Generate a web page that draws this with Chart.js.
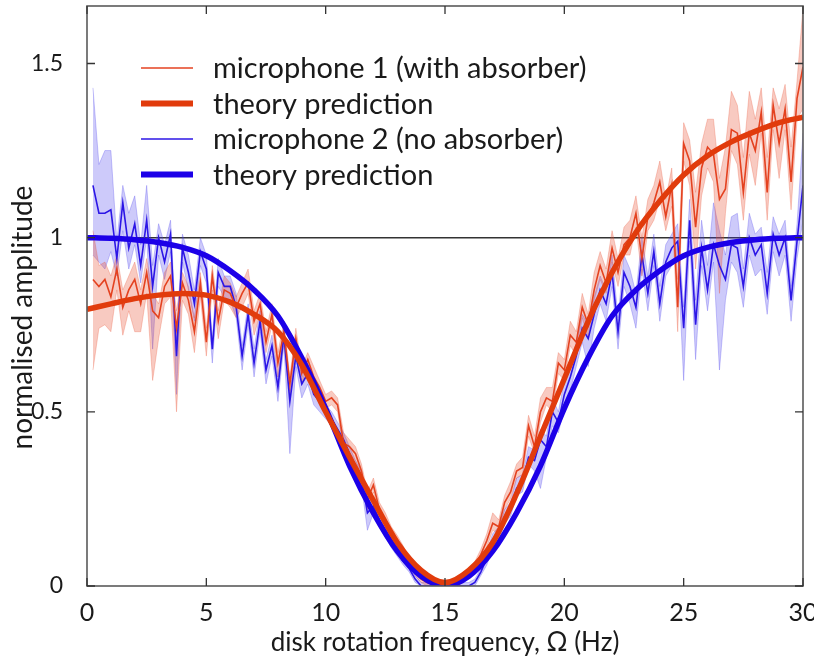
<!DOCTYPE html>
<html lang="en">
<head>
<meta charset="UTF-8">
<title>Normalised amplitude vs disk rotation frequency</title>
<script src="https://cdn.jsdelivr.net/npm/chart.js"></script>
<style>
  body { margin: 0; background: #fff; }
  #wrap { width: 814px; height: 668px; }
</style>
</head>
<body>
<div id="wrap"><canvas id="ampChart" width="814" height="668"></canvas></div>
<script>
// measured points, 0.25 Hz apart starting at 0.25 Hz
const mic1 = [
  0.88, 0.86, 0.88, 0.83, 0.91, 0.80, 0.85, 0.88, 0.81, 0.90, 0.79, 0.77, 0.86, 0.89, 0.74, 0.87, 0.82, 0.73, 0.87, 0.70,
  0.89, 0.76, 0.85, 0.84, 0.80, 0.84, 0.87, 0.76, 0.81, 0.70, 0.78, 0.64, 0.73, 0.58, 0.71, 0.61, 0.65, 0.60, 0.57, 0.53,
  0.54, 0.52, 0.41, 0.40, 0.38, 0.33, 0.25, 0.29, 0.22, 0.19, 0.15, 0.13, 0.10, 0.07, 0.04, 0.02, 0.01, 0.005, 0.0, 0.0,
  0.0, 0.01, 0.02, 0.04, 0.06, 0.09, 0.13, 0.18, 0.17, 0.24, 0.27, 0.33, 0.34, 0.46, 0.40, 0.50, 0.54, 0.53, 0.64, 0.62,
  0.72, 0.70, 0.80, 0.75, 0.85, 0.92, 0.87, 0.97, 0.90, 0.98, 1.00, 1.07, 0.94, 1.06, 1.10, 1.16, 1.06, 1.15, 0.80, 1.27,
  1.22, 1.03, 1.20, 1.26, 1.24, 1.11, 1.14, 1.31, 1.30, 1.13, 1.30, 1.25, 1.36, 1.13, 1.38, 1.27, 1.37, 1.16, 1.40, 1.49
];
const mic1Dn = [
  0.26, 0.12, 0.13, 0.10, 0.06, 0.08, 0.06, 0.15, 0.08, 0.06, 0.20, 0.06, 0.05, 0.06, 0.24, 0.05, 0.04, 0.06, 0.04, 0.04,
  0.04, 0.05, 0.03, 0.04, 0.03, 0.04, 0.03, 0.04, 0.03, 0.03, 0.03, 0.04, 0.03, 0.04, 0.03, 0.03, 0.02, 0.03, 0.02, 0.02,
  0.02, 0.02, 0.02, 0.02, 0.02, 0.02, 0.03, 0.02, 0.02, 0.02, 0.015, 0.015, 0.01, 0.01, 0.01, 0.01, 0.01, 0.005, 0.0, 0.0,
  0.0, 0.01, 0.01, 0.01, 0.01, 0.015, 0.02, 0.02, 0.02, 0.02, 0.02, 0.02, 0.02, 0.03, 0.02, 0.03, 0.02, 0.03, 0.03, 0.03,
  0.03, 0.04, 0.03, 0.04, 0.03, 0.04, 0.03, 0.04, 0.04, 0.03, 0.05, 0.04, 0.05, 0.04, 0.05, 0.05, 0.04, 0.06, 0.07, 0.05,
  0.07, 0.12, 0.08, 0.06, 0.08, 0.27, 0.07, 0.06, 0.09, 0.08, 0.06, 0.10, 0.06, 0.08, 0.07, 0.10, 0.06, 0.08, 0.06, 0.12
];
const mic1Up = [
  0.14, 0.06, 0.05, 0.06, 0.04, 0.05, 0.04, 0.05, 0.04, 0.04, 0.05, 0.04, 0.04, 0.04, 0.05, 0.03, 0.04, 0.04, 0.03, 0.04,
  0.03, 0.03, 0.04, 0.03, 0.03, 0.03, 0.04, 0.03, 0.03, 0.03, 0.03, 0.03, 0.03, 0.02, 0.03, 0.02, 0.02, 0.03, 0.02, 0.02,
  0.02, 0.02, 0.03, 0.02, 0.02, 0.02, 0.02, 0.02, 0.02, 0.02, 0.02, 0.015, 0.015, 0.01, 0.01, 0.01, 0.01, 0.01, 0.01, 0.01,
  0.01, 0.01, 0.01, 0.01, 0.01, 0.015, 0.02, 0.03, 0.02, 0.02, 0.03, 0.02, 0.03, 0.03, 0.03, 0.04, 0.03, 0.04, 0.03, 0.03,
  0.04, 0.03, 0.04, 0.03, 0.05, 0.04, 0.04, 0.05, 0.04, 0.05, 0.05, 0.05, 0.06, 0.05, 0.05, 0.06, 0.05, 0.05, 0.08, 0.06,
  0.06, 0.10, 0.07, 0.08, 0.10, 0.06, 0.12, 0.11, 0.08, 0.10, 0.12, 0.09, 0.07, 0.10, 0.05, 0.10, 0.07, 0.10, 0.05, 0.17
];
const mic2 = [
  1.15, 1.07, 1.07, 1.08, 0.94, 1.10, 0.97, 1.04, 0.92, 1.05, 0.86, 1.00, 0.93, 1.01, 0.66, 0.97, 0.90, 0.81, 0.96, 0.91,
  0.68, 0.90, 0.86, 0.86, 0.80, 0.66, 0.78, 0.64, 0.76, 0.62, 0.69, 0.57, 0.72, 0.53, 0.66, 0.58, 0.61, 0.55, 0.53, 0.50,
  0.48, 0.45, 0.42, 0.38, 0.34, 0.31, 0.21, 0.23, 0.19, 0.16, 0.13, 0.10, 0.07, 0.05, 0.02, 0.0, 0.0, 0.0, 0.0, 0.0,
  0.0, 0.0, 0.0, 0.0, 0.01, 0.04, 0.08, 0.13, 0.15, 0.20, 0.22, 0.28, 0.30, 0.37, 0.36, 0.42, 0.40, 0.50, 0.47, 0.55,
  0.60, 0.66, 0.74, 0.71, 0.78, 0.85, 0.81, 0.90, 0.73, 0.90, 0.86, 0.80, 0.95, 0.84, 0.96, 0.81, 0.93, 0.97, 0.99, 0.74,
  1.05, 0.75, 0.97, 0.85, 0.98, 0.92, 0.88, 0.98, 0.97, 0.86, 1.00, 0.95, 0.98, 0.84, 1.01, 0.95, 1.00, 0.82, 0.99, 1.15
];
const mic2Dn = [
  0.20, 0.14, 0.16, 0.12, 0.05, 0.08, 0.06, 0.06, 0.05, 0.05, 0.18, 0.05, 0.05, 0.05, 0.11, 0.04, 0.05, 0.05, 0.04, 0.04,
  0.04, 0.04, 0.03, 0.04, 0.03, 0.04, 0.03, 0.04, 0.03, 0.04, 0.03, 0.04, 0.03, 0.15, 0.03, 0.04, 0.03, 0.03, 0.03, 0.02,
  0.02, 0.02, 0.02, 0.02, 0.02, 0.02, 0.05, 0.02, 0.02, 0.02, 0.02, 0.015, 0.01, 0.01, 0.01, 0.0, 0.0, 0.0, 0.0, 0.0,
  0.0, 0.0, 0.0, 0.0, 0.01, 0.01, 0.02, 0.02, 0.02, 0.02, 0.02, 0.02, 0.03, 0.02, 0.03, 0.14, 0.03, 0.04, 0.03, 0.04,
  0.04, 0.03, 0.04, 0.08, 0.04, 0.04, 0.05, 0.04, 0.05, 0.04, 0.05, 0.06, 0.04, 0.05, 0.04, 0.05, 0.04, 0.05, 0.04, 0.15,
  0.06, 0.10, 0.05, 0.06, 0.05, 0.30, 0.06, 0.05, 0.07, 0.06, 0.05, 0.06, 0.07, 0.06, 0.05, 0.06, 0.05, 0.06, 0.05, 0.10
];
const mic2Up = [
  0.28, 0.14, 0.18, 0.17, 0.05, 0.05, 0.10, 0.08, 0.06, 0.10, 0.06, 0.04, 0.05, 0.04, 0.05, 0.04, 0.05, 0.04, 0.04, 0.04,
  0.03, 0.04, 0.03, 0.03, 0.04, 0.03, 0.03, 0.04, 0.03, 0.03, 0.03, 0.03, 0.03, 0.03, 0.03, 0.02, 0.03, 0.02, 0.02, 0.02,
  0.02, 0.02, 0.02, 0.02, 0.02, 0.02, 0.02, 0.02, 0.02, 0.02, 0.02, 0.015, 0.01, 0.01, 0.01, 0.01, 0.01, 0.01, 0.01, 0.01,
  0.01, 0.01, 0.01, 0.01, 0.01, 0.01, 0.02, 0.02, 0.02, 0.02, 0.02, 0.03, 0.02, 0.03, 0.03, 0.03, 0.03, 0.04, 0.03, 0.04,
  0.03, 0.04, 0.04, 0.04, 0.05, 0.04, 0.04, 0.05, 0.04, 0.05, 0.05, 0.04, 0.05, 0.05, 0.05, 0.05, 0.05, 0.04, 0.05, 0.06,
  0.06, 0.07, 0.08, 0.07, 0.12, 0.10, 0.07, 0.08, 0.10, 0.05, 0.07, 0.06, 0.05, 0.06, 0.05, 0.06, 0.05, 0.04, 0.05, 0.15
];

// theory curves, read every 1 Hz
const theoryFreq = [0, 1, 2, 3, 4, 5, 6, 7, 8, 9, 10, 11, 12, 13, 14, 15, 16, 17, 18, 19, 20, 21, 22, 23, 24, 25, 26, 27, 28, 29, 30];
const theory1 = [0.794, 0.81, 0.825, 0.835, 0.84, 0.835, 0.815, 0.78, 0.73, 0.635, 0.50, 0.37, 0.245, 0.125, 0.045, 0.01,
                 0.045, 0.125, 0.265, 0.43, 0.595, 0.76, 0.90, 1.015, 1.105, 1.18, 1.235, 1.275, 1.305, 1.33, 1.346];
const theory2 = [1.0, 0.998, 0.994, 0.986, 0.972, 0.948, 0.905, 0.85, 0.775, 0.655, 0.51, 0.345, 0.21, 0.10, 0.028, 0.0,
                 0.028, 0.10, 0.21, 0.345, 0.51, 0.655, 0.775, 0.85, 0.905, 0.948, 0.972, 0.986, 0.994, 0.998, 1.0];

const xTicks = [0, 5, 10, 15, 20, 25, 30];
const yTicks = [0, 0.5, 1, 1.5];
const unityX = [0, 30];
const unityY = [1, 1];

const legendLabels = ['microphone 1 (with absorber)', 'theory prediction', 'microphone 2 (no absorber)', 'theory prediction'];

const RED = 'rgb(225, 59, 12)';
const RED_THIN = 'rgb(228, 66, 32)';
const BLUE = 'rgb(28, 0, 232)';
const BLUE_THIN = 'rgb(44, 22, 230)';
const FONT = 'Lato';
const INK = '#1a1a1a';

const freq = mic1.map((_, i) => (i + 1) * 0.25);
const pts = (xs, ys) => xs.map((x, i) => ({ x: x, y: ys[i] }));
const band = (vals, d, sign) => vals.map((v, i) => v + sign * d[i]);

function line(data, color, width, extra) {
    return Object.assign({
        data: data, borderColor: color, borderWidth: width,
        pointRadius: 0, fill: false, tension: 0
    }, extra || {});
}

// no label overhang padding, so the plot box lands where the layout says
function noPad(s) {
    s.paddingTop = 0; s.paddingBottom = 0; s.paddingLeft = 0; s.paddingRight = 0;
}

// frame, inward ticks and the legend
const decor = {
    id: 'decor',
    afterDraw(chart) {
        const ctx = chart.ctx, a = chart.chartArea;
        const xs = chart.scales.x, ys = chart.scales.y;
        ctx.save();
        ctx.strokeStyle = '#5a5a5a';
        ctx.lineWidth = 1.6;
        ctx.strokeRect(a.left, a.top, a.right - a.left, a.bottom - a.top);
        ctx.lineWidth = 1.3;
        ctx.strokeStyle = '#333';
        const tl = 8;
        xTicks.forEach(v => {
            const px = xs.getPixelForValue(v);
            ctx.beginPath();
            ctx.moveTo(px, a.bottom); ctx.lineTo(px, a.bottom - tl);
            ctx.moveTo(px, a.top); ctx.lineTo(px, a.top + tl);
            ctx.stroke();
        });
        yTicks.forEach(v => {
            const py = ys.getPixelForValue(v);
            ctx.beginPath();
            ctx.moveTo(a.left, py); ctx.lineTo(a.left + tl, py);
            ctx.moveTo(a.right, py); ctx.lineTo(a.right - tl, py);
            ctx.stroke();
        });

        // legend
        const styles = [
            { c: RED_THIN, w: 1.8 },
            { c: RED, w: 6 },
            { c: BLUE_THIN, w: 1.8 },
            { c: BLUE, w: 6 }
        ];
        ctx.font = '29px ' + FONT;
        ctx.textBaseline = 'middle';
        ctx.fillStyle = INK;
        legendLabels.forEach((txt, i) => {
            const y = 68 + i * 35.5;
            ctx.strokeStyle = styles[i].c;
            ctx.globalAlpha = i % 2 === 0 ? 0.75 : 1;
            ctx.lineWidth = styles[i].w;
            ctx.beginPath();
            ctx.moveTo(141, y); ctx.lineTo(193, y);
            ctx.stroke();
            ctx.globalAlpha = 1;
            ctx.fillText(txt, 213, y + 1);
        });
        ctx.restore();
    }
};

const ctx = document.getElementById('ampChart').getContext('2d');
new Chart(ctx, {
    type: 'line',
    data: {
        datasets: [
            line(pts(theoryFreq, theory1), RED, 5.5, { cubicInterpolationMode: 'monotone' }),
            line(pts(theoryFreq, theory2), BLUE, 5.5, { cubicInterpolationMode: 'monotone' }),
            line(pts(freq, mic1), RED_THIN, 1.6),
            line(pts(freq, mic2), BLUE_THIN, 1.6),
            line(pts(freq, band(mic1, mic1Up, 1)), 'rgba(232, 80, 50, 0.35)', 0.8,
                 { fill: '+1', backgroundColor: 'rgba(232, 80, 50, 0.3)' }),
            line(pts(freq, band(mic1, mic1Dn, -1)), 'rgba(232, 80, 50, 0.35)', 0.8),
            line(pts(freq, band(mic2, mic2Up, 1)), 'rgba(70, 60, 235, 0.35)', 0.8,
                 { fill: '+1', backgroundColor: 'rgba(70, 60, 235, 0.27)' }),
            line(pts(freq, band(mic2, mic2Dn, -1)), 'rgba(70, 60, 235, 0.35)', 0.8),
            line(pts(unityX, unityY), '#333', 1.5)
        ]
    },
    options: {
        responsive: false,
        animation: false,
        events: [],
        layout: { autoPadding: false, padding: { top: 6, right: 11, left: 0, bottom: 0 } },
        plugins: { legend: { display: false }, tooltip: { enabled: false } },
        scales: {
            x: {
                type: 'linear', min: 0, max: 30,
                afterBuildTicks: s => { s.ticks = xTicks.map(v => ({ value: v })); },
                afterFit: s => { s.height = 82; noPad(s); },
                grid: { display: false },
                border: { display: false },
                ticks: { font: { family: FONT, size: 25 }, color: INK, padding: 4, maxRotation: 0 },
                title: {
                    display: true, text: 'disk rotation frequency, \u03A9 (Hz)',
                    font: { family: FONT, size: 26 }, color: INK,
                    padding: { top: 0, bottom: 10 }
                }
            },
            y: {
                type: 'linear', min: 0, max: 1.665,
                afterBuildTicks: s => { s.ticks = yTicks.map(v => ({ value: v })); },
                afterFit: s => { s.width = 87; noPad(s); },
                grid: { display: false },
                border: { display: false },
                ticks: { font: { family: FONT, size: 23 }, color: INK, padding: 16, callback: v => String(v) },
                title: {
                    display: true, text: 'normalised amplitude      ',
                    font: { family: FONT, size: 28 }, color: INK,
                    padding: { top: 6, bottom: 0 }
                }
            }
        }
    },
    plugins: [decor]
});
</script>
</body>
</html>
